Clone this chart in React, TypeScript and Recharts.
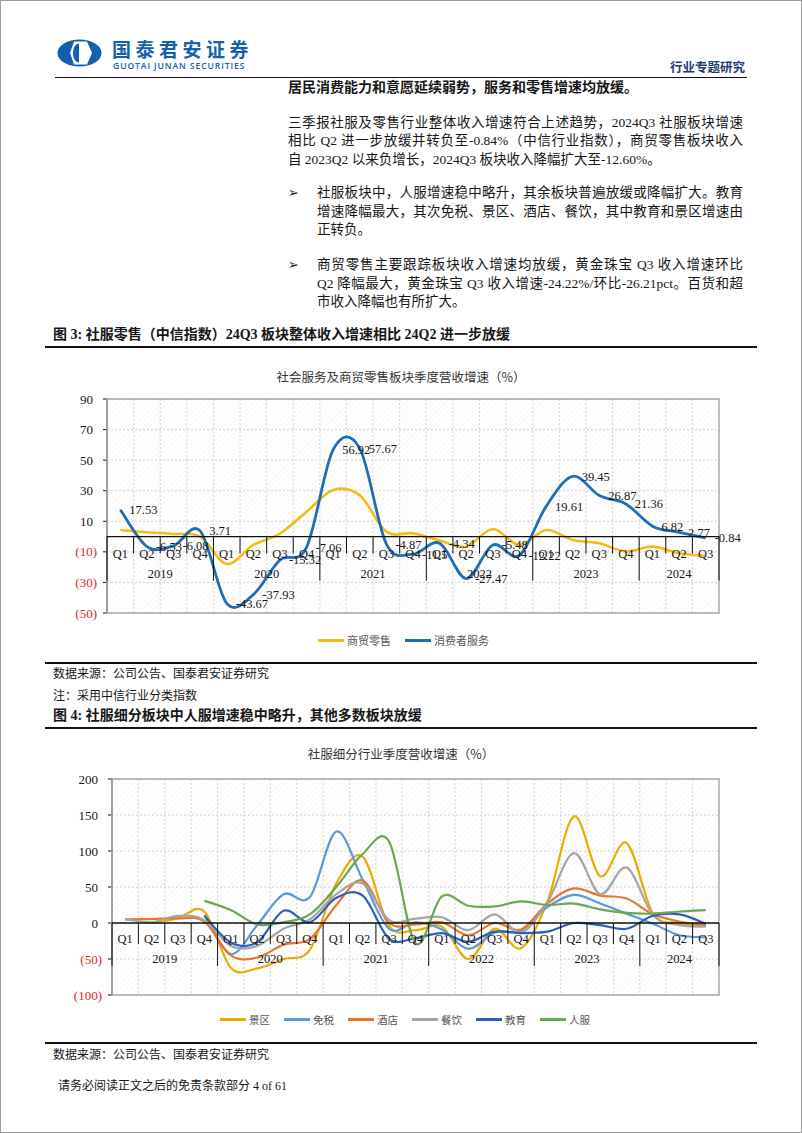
import { LineChart, Line, XAxis, YAxis, CartesianGrid, LabelList } from 'recharts';

const SERIF = '"Liberation Serif", "Times New Roman", "Noto Sans CJK SC", serif';
const SANS = '"Noto Sans CJK SC", "Noto Sans", sans-serif';
const RED = '#e0262b';
const INK = '#161616';

const quarters = [
  '2019Q1', '2019Q2', '2019Q3', '2019Q4',
  '2020Q1', '2020Q2', '2020Q3', '2020Q4',
  '2021Q1', '2021Q2', '2021Q3', '2021Q4',
  '2022Q1', '2022Q2', '2022Q3', '2022Q4',
  '2023Q1', '2023Q2', '2023Q3', '2023Q4',
  '2024Q1', '2024Q2', '2024Q3',
];

// 图3：商贸零售 / 消费者服务
const retailGrowth = [4.3, 2.8, 1.7, 0, -17.9, -5.5, 2, 16.3, 30.5, 27, 3.2, 2.1, -2.6, -6.6, 5, -5.5, 4.3, -2.2, -4.4, -9.8, -6.6, -10.9, -12.6];
const serviceGrowth = [17.53, -6.53, -6.08, 3.71, -43.67, -37.93, -15.32, -7.06, 56.92, 57.67, -4.87, -11.5, -4.34, -27.47, -5.48, -12.22, 19.61, 39.45, 26.87, 21.36, 6.82, 2.77, -0.84];
const chart1Ticks = [-50, -30, -10, 10, 30, 50, 70, 90];

// 图4：社服细分板块
const scenicGrowth = [null, 0, 6.5, 16, -62, -63, -50, -37, 55, 92, -4, -10, -5, -50, -8, -35, 30, 148, 65, 111, 13, 0, -3];
const dutyFreeGrowth = [null, null, null, 11, -43, -3, 40, 36, 127, 60, -8, 1, -9, -36, -13, -10, 22, 39, 27, 13, -1, -17, -20];
const hotelGrowth = [5, 5.5, 6.5, 2, -45, -48, -30, -22, 25, 59, 0, -2, 1, -17, 0, -9, 27, 48, 38, 34, 12, 2, -3];
const cateringGrowth = [5.5, 1, 10, 4, -32, -32, -8, 5, 40, 55, 4, 6, 8, -10, 12, -13, 29, 97, 40, 77, 11, -3, -5];
const educationGrowth = [null, null, null, 10, -27, -27, 17, 1, 35, 38, -22, -21, -14, -26, -12, -14, -12, 0, -3, -8, 10, 12, -1];
const apparelGrowth = [null, null, null, 31, 18, -2, 1, 12, 50, 96, 113, -28, 37, 24, 23, 30, 25, 27, 19, 14, 13, 16, 18];
const chart2Ticks = [-100, -50, 0, 50, 100, 150, 200];

const chart1Series = [
  { key: 'retail', name: '商贸零售', color: '#f4bc14', width: 2.6 },
  { key: 'service', name: '消费者服务', color: '#1f6db4', width: 2.8 },
];

const chart2Series = [
  { key: 'scenic', name: '景区', color: '#e8ad00' },
  { key: 'dutyFree', name: '免税', color: '#5b9bd5' },
  { key: 'hotel', name: '酒店', color: '#e8772e' },
  { key: 'catering', name: '餐饮', color: '#a5a5a5' },
  { key: 'education', name: '教育', color: '#2f5eb5' },
  { key: 'apparel', name: '人服', color: '#6aa84f' },
];

const chart1Data = quarters.map((q, i) => ({ q, retail: retailGrowth[i], service: serviceGrowth[i] }));
const chart2Data = quarters.map((q, i) => ({
  q,
  scenic: scenicGrowth[i],
  dutyFree: dutyFreeGrowth[i],
  hotel: hotelGrowth[i],
  catering: cateringGrowth[i],
  education: educationGrowth[i],
  apparel: apparelGrowth[i],
}));

// Excel-like smoothed line (bezier through every point)
const excelSmooth: any = (context: any) => {
  let pts: number[][] = [];
  return {
    areaStart() {},
    areaEnd() {},
    lineStart() { pts = []; },
    point(x: number, y: number) { pts.push([+x, +y]); },
    lineEnd() {
      const n = pts.length;
      if (!n) return;
      context.moveTo(pts[0][0], pts[0][1]);
      for (let i = 0; i < n - 1; i++) {
        const p0 = pts[i > 0 ? i - 1 : 0];
        const p1 = pts[i];
        const p2 = pts[i + 1];
        const p3 = pts[i + 2 < n ? i + 2 : n - 1];
        context.bezierCurveTo(
          p1[0] + (p2[0] - p0[0]) / 6, p1[1] + (p2[1] - p0[1]) / 6,
          p2[0] - (p3[0] - p1[0]) / 6, p2[1] - (p3[1] - p1[1]) / 6,
          p2[0], p2[1],
        );
      }
    },
  };
};

type Frame = {
  min: number; max: number; width: number; height: number; yAxisW: number;
  shortLen: number; longLen: number; qDy: number; yrDy: number;
};

const X_AXIS_H = 12;
const M = { top: 9, right: 51, bottom: 1, left: 0 };

const plotSize = (f: Frame) => ({
  w: f.width - f.yAxisW - M.right - M.left,
  h: f.height - M.top - M.bottom - X_AXIS_H,
});

const makeQuarterTick = (f: Frame) => {
  const n = quarters.length;
  const { w: plotW, h: plotH } = plotSize(f);
  const bw = plotW / n;
  return (props: any) => {
    const { x, y, index } = props;
    const zeroY = y - (plotH * (0 - f.min)) / (f.max - f.min);
    const key = quarters[index];
    const year = key.slice(0, 4);
    const isFirst = index === 0 || quarters[index - 1].slice(0, 4) !== year;
    const yearCount = quarters.filter((c) => c.startsWith(year)).length;
    const left = x - bw / 2;
    return (
      <g>
        {index === 0 && (
          <rect x={left} y={y - plotH} width={plotW} height={plotH} fill="none" stroke="#a8a8a8" strokeWidth={1.5} />
        )}
        {index === 0 && <line x1={left} x2={left + plotW} y1={zeroY} y2={zeroY} stroke="#111" strokeWidth={1.3} />}
        <line x1={left} x2={left} y1={zeroY} y2={zeroY + (isFirst ? f.longLen : f.shortLen)} stroke="#111" />
        {index === n - 1 && <line x1={left + bw} x2={left + bw} y1={zeroY} y2={zeroY + f.longLen} stroke="#111" />}
        <text x={x} y={zeroY + f.qDy} textAnchor="middle" fontSize={12.5} fontFamily={SERIF} fill={INK}>
          {key.slice(4)}
        </text>
        {isFirst && (
          <text x={left + (yearCount * bw) / 2} y={zeroY + f.yrDy} textAnchor="middle" fontSize={12.5} fontFamily={SERIF} fill={INK}>
            {year}
          </text>
        )}
      </g>
    );
  };
};

const YTick = (props: any) => {
  const { x, y, payload } = props;
  const v = payload.value as number;
  return (
    <text x={v < 0 ? x : x - 4} y={y} dy={4.5} textAnchor="end" fontSize={13} fontFamily={SERIF} fill={v < 0 ? RED : INK}>
      {v < 0 ? `(${-v})` : v}
    </text>
  );
};

const ServiceLabel = (props: any) => {
  const { x, y, value } = props;
  return (
    <text x={x + 9} y={y + 4.5} fontSize={12.5} fontFamily={SERIF} fill={INK}>
      {String(value)}
    </text>
  );
};

const gridPoints = (f: Frame) => {
  const bw = plotSize(f).w / quarters.length;
  return quarters.slice(1).map((_, i) => M.left + f.yAxisW + (i + 1) * bw);
};

const frame1: Frame = { min: -50, max: 90, width: 720, height: 236, yAxisW: 57, shortLen: 17, longLen: 44, qDy: 21, yrDy: 41 };
const frame2: Frame = { min: -100, max: 200, width: 720, height: 238, yAxisW: 62, shortLen: 21, longLen: 43, qDy: 20, yrDy: 40 };

const Legend = ({ items, left, top, fontSize }: { items: { name: string; color: string }[]; left: number; top: number; fontSize: number }) => (
  <div style={{ position: 'absolute', left, top, display: 'flex', alignItems: 'center', fontFamily: SANS, fontSize, color: '#555' }}>
    {items.map((s) => (
      <div key={s.name} style={{ display: 'flex', alignItems: 'center', marginRight: 14 }}>
        <span style={{ display: 'inline-block', width: 26, height: 3, background: s.color, marginRight: 3 }} />
        <span>{s.name}</span>
      </div>
    ))}
  </div>
);

const abs = (left: number, top: number, extra: any = {}) => ({ position: 'absolute' as const, left, top, whiteSpace: 'nowrap' as const, ...extra });

const Line1 = ({ top, left, width, text, justify }: { top: number; left: number; width: number; text: string; justify?: boolean }) => (
  <div
    lang="zh"
    style={abs(left, top - 9, {
      width,
      height: 18,
      lineHeight: '18px',
      fontSize: 13.5,
      fontFamily: SERIF,
      color: INK,
      textAlign: justify ? 'justify' : 'left',
      textAlignLast: justify ? 'justify' : 'left',
      textJustify: 'inter-character',
    })}
  >
    {text}
  </div>
);

const Rule = ({ top, left, width, h = 2 }: { top: number; left: number; width: number; h?: number }) => (
  <div style={{ position: 'absolute', left, top, width, height: h, background: '#111' }} />
);

const SegChart = () => {
  const tick = makeQuarterTick(frame2);
  return (
    <LineChart width={frame2.width} height={frame2.height} data={chart2Data} margin={M}>
      <CartesianGrid fill="url(#hatch)" stroke="#d2d2d2" strokeDasharray="2 2" verticalPoints={gridPoints(frame2)} />
      <XAxis dataKey="q" scale="band" height={X_AXIS_H} interval={0} tickLine={false} axisLine={false} tickSize={0} tickMargin={0} tick={tick} />
      <YAxis
        type="number"
        domain={[frame2.min, frame2.max]}
        ticks={chart2Ticks}
        interval={0}
        width={frame2.yAxisW}
        allowDataOverflow
        axisLine={{ stroke: '#111' }}
        tickLine={{ stroke: '#111' }}
        tickSize={4}
        tickMargin={6}
        tick={<YTick />}
      />
      {chart2Series.map((s) => (
        <Line key={s.key} dataKey={s.key} type={excelSmooth} stroke={s.color} strokeWidth={2.2} dot={false} activeDot={false} isAnimationActive={false} />
      ))}
    </LineChart>
  );
};

const SectorChart = () => {
  const tick = makeQuarterTick(frame1);
  return (
    <LineChart width={frame1.width} height={frame1.height} data={chart1Data} margin={M}>
      <CartesianGrid fill="url(#hatch)" stroke="#d2d2d2" strokeDasharray="2 2" verticalPoints={gridPoints(frame1)} />
      <XAxis dataKey="q" scale="band" height={X_AXIS_H} interval={0} tickLine={false} axisLine={false} tickSize={0} tickMargin={0} tick={tick} />
      <YAxis
        type="number"
        domain={[frame1.min, frame1.max]}
        ticks={chart1Ticks}
        interval={0}
        width={frame1.yAxisW}
        allowDataOverflow
        axisLine={{ stroke: '#111' }}
        tickLine={{ stroke: '#111' }}
        tickSize={4}
        tickMargin={6}
        tick={<YTick />}
      />
      <Line dataKey="retail" type={excelSmooth} stroke={chart1Series[0].color} strokeWidth={chart1Series[0].width} dot={false} activeDot={false} isAnimationActive={false} />
      <Line dataKey="service" type={excelSmooth} stroke={chart1Series[1].color} strokeWidth={chart1Series[1].width} dot={false} activeDot={false} isAnimationActive={false}>
        <LabelList dataKey="service" content={<ServiceLabel />} />
      </Line>
    </LineChart>
  );
};

export default function App() {
  return (
    <div style={{ position: 'absolute', left: 0, top: 0, width: 802, height: 1133, background: '#fff', overflow: 'hidden' }}>
      <svg width={0} height={0} style={{ position: 'absolute' }}>
        <defs>
          <pattern id="hatch" width="4" height="4" patternUnits="userSpaceOnUse" patternTransform="rotate(45)">
            <line x1="0" y1="0" x2="0" y2="4" stroke="#efefef" strokeWidth="1.1" />
          </pattern>
        </defs>
      </svg>
      <div style={{ position: 'absolute', left: 0, top: 0, width: 802, height: 1133, border: '1px solid #9a9a9a', boxSizing: 'border-box' }} />

      {/* header */}
      <svg style={{ position: 'absolute', left: 57, top: 39 }} width={45} height={28} viewBox="0 0 45 28">
        <ellipse cx={22.5} cy={14} rx={22} ry={13.6} fill="#1560ad" />
        <polygon points="17,2.5 30,2.5 35,14 30,25.5 17,25.5 13,14" fill="#fff" />
        <path d="M22,4.5 C14,5 14,23 22,23.5 Z" fill="#1560ad" />
      </svg>
      <div style={abs(112, 39, { fontFamily: SANS, fontWeight: 700, fontSize: 19, color: '#1560ad', letterSpacing: 4.5, lineHeight: '20px' })}>
        国泰君安证券
      </div>
      <div style={abs(113, 61.5, { fontFamily: '"Open Sans", "Noto Sans", sans-serif', fontWeight: 600, fontSize: 8.6, color: '#1560ad', letterSpacing: 0.9, lineHeight: '9px' })}>
        GUOTAI JUNAN SECURITIES
      </div>
      <div style={abs(670, 60, { fontFamily: SERIF, fontWeight: 700, fontSize: 12.5, color: '#1f3d73', lineHeight: '16px' })}>
        行业专题研究
      </div>
      <Rule top={76.5} left={55} width={692} h={1.5} />

      <div style={abs(288, 79, { fontFamily: SERIF, fontWeight: 700, fontSize: 14, color: INK, lineHeight: '18px' })}>
        居民消费能力和意愿延续弱势，服务和零售增速均放缓。
      </div>

      <Line1 top={122.5} left={288} width={455} justify text="三季报社服及零售行业整体收入增速符合上述趋势，2024Q3 社服板块增速" />
      <Line1 top={141} left={288} width={455} justify text="相比 Q2 进一步放缓并转负至-0.84%（中信行业指数），商贸零售板块收入" />
      <Line1 top={159.5} left={288} width={455} text="自 2023Q2 以来负增长，2024Q3 板块收入降幅扩大至-12.60%。" />

      <div style={abs(288, 184, { fontSize: 13, fontFamily: '"DejaVu Sans", sans-serif', lineHeight: '18px', color: INK })}>➢</div>
      <Line1 top={193} left={317} width={426} justify text="社服板块中，人服增速稳中略升，其余板块普遍放缓或降幅扩大。教育" />
      <Line1 top={211.5} left={317} width={426} justify text="增速降幅最大，其次免税、景区、酒店、餐饮，其中教育和景区增速由" />
      <Line1 top={230} left={317} width={426} text="正转负。" />

      <div style={abs(288, 256, { fontSize: 13, fontFamily: '"DejaVu Sans", sans-serif', lineHeight: '18px', color: INK })}>➢</div>
      <Line1 top={265} left={317} width={426} justify text="商贸零售主要跟踪板块收入增速均放缓，黄金珠宝 Q3 收入增速环比" />
      <Line1 top={283.5} left={317} width={426} justify text="Q2 降幅最大，黄金珠宝 Q3 收入增速-24.22%/环比-26.21pct。百货和超" />
      <Line1 top={302} left={317} width={426} text="市收入降幅也有所扩大。" />

      {/* figure 3 */}
      <div style={abs(53, 326, { fontFamily: SERIF, fontWeight: 700, fontSize: 14, color: INK, lineHeight: '18px' })}>
        图 3:  社服零售（中信指数）24Q3 板块整体收入增速相比 24Q2 进一步放缓
      </div>
      <Rule top={346} left={45} width={712} />
      <div style={abs(0, 369, { width: 802, textAlign: 'center', fontFamily: SANS, fontSize: 12.5, color: '#333', lineHeight: '16px' })}>
        社会服务及商贸零售板块季度营收增速（%）
      </div>

      <div style={{ position: 'absolute', left: 50, top: 390 }}>
        <SectorChart />
      </div>
      <Legend items={chart1Series} left={318} top={632} fontSize={11} />

      <Rule top={661.5} left={45} width={712} />
      <div style={abs(53, 666, { fontFamily: SERIF, fontSize: 12, color: INK, lineHeight: '16px' })}>数据来源：公司公告、国泰君安证券研究</div>
      <div style={abs(53, 688, { fontFamily: SERIF, fontSize: 12, color: INK, lineHeight: '16px' })}>注：采用中信行业分类指数</div>

      {/* figure 4 */}
      <div style={abs(53, 707, { fontFamily: SERIF, fontWeight: 700, fontSize: 14, color: INK, lineHeight: '18px' })}>
        图 4:  社服细分板块中人服增速稳中略升，其他多数板块放缓
      </div>
      <Rule top={726.5} left={45} width={712} />
      <div style={abs(0, 746, { width: 802, textAlign: 'center', fontFamily: SANS, fontSize: 12.5, color: '#333', lineHeight: '16px' })}>
        社服细分行业季度营收增速（%）
      </div>

      <div style={{ position: 'absolute', left: 50, top: 770 }}>
        <SegChart />
      </div>
      <Legend items={chart2Series} left={220} top={1012} fontSize={10.5} />

      <Rule top={1041.5} left={45} width={712} />
      <div style={abs(53, 1047, { fontFamily: SERIF, fontSize: 12, color: INK, lineHeight: '16px' })}>数据来源：公司公告、国泰君安证券研究</div>
      <div style={abs(58, 1078, { fontFamily: SERIF, fontSize: 12, color: INK, lineHeight: '16px' })}>请务必阅读正文之后的免责条款部分 4 of 61</div>
    </div>
  );
}
